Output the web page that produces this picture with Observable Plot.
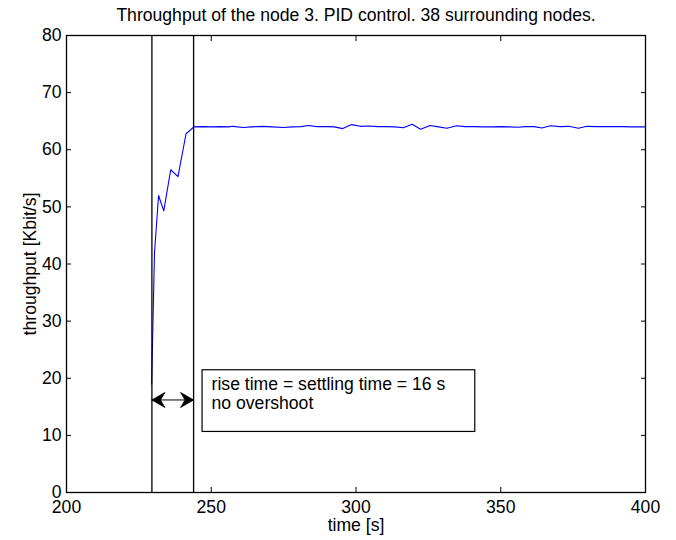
<!DOCTYPE html>
<html>
<head>
<meta charset="utf-8">
<script src="https://cdn.jsdelivr.net/npm/d3@7"></script>
<script src="https://cdn.jsdelivr.net/npm/@observablehq/plot@0.6"></script>
<style>
  html, body { margin: 0; padding: 0; background: #fff; }
  #chart svg { display: block; }
</style>
</head>
<body>
<div id="chart"></div>
<script>
// ---- data ----
const titleText = "Throughput of the node 3. PID control. 38 surrounding nodes.";
const xLabel = "time [s]";
const yLabel = "throughput [Kbit/s]";
const xTicks = [200, 250, 300, 350, 400];
const yTicks = [0, 10, 20, 30, 40, 50, 60, 70, 80];

const time = [
  229.4, 230.4, 231.8, 233.6, 236.0, 238.5, 241.3, 244.0,
  247.0, 250.0, 253.0, 256.0, 257.5, 261.0, 264.0, 267.5, 271.0, 274.8,
  278.0, 281.0, 283.5, 286.5, 290.0, 292.5, 295.4, 298.5, 301.5, 304.5,
  307.5, 310.5, 313.5, 316.4, 319.4, 322.3, 325.6, 328.5, 331.4, 334.7,
  337.7, 341.0, 344.0, 347.0, 350.0, 353.0, 356.0, 358.5, 361.5, 364.2,
  367.2, 370.5, 373.5, 376.8, 379.8, 383.0, 386.0, 389.0, 392.0, 395.0,
  398.0, 400.0
];
const throughput = [
  19.0, 42.0, 52.0, 49.3, 56.5, 55.3, 62.8, 64.0,
  64.05, 64.0, 64.05, 64.0, 64.1, 63.9, 64.0, 64.1, 64.0, 63.9,
  64.0, 64.05, 64.25, 64.05, 64.05, 64.0, 63.7, 64.4, 64.1, 64.15,
  64.05, 64.05, 64.0, 63.85, 64.45, 63.6, 64.25, 64.0, 63.75, 64.2,
  64.05, 64.05, 64.0, 64.0, 64.05, 64.0, 63.95, 64.05, 64.05, 63.8,
  64.2, 64.05, 64.1, 63.75, 64.1, 64.05, 64.05, 64.05, 64.05, 64.0,
  64.0, 64.0
];

// rise / settling markers
const markerTimes = [229.5, 243.9];
const annotationLines = ["rise time = settling time = 16 s", "no overshoot"];

const series = time.map((t, i) => ({t, v: throughput[i]}));

const font = "'Liberation Sans', Arial, Helvetica, sans-serif";
const FS = 17.6;

const box = {x1: 247.0, x2: 341.2, y1: 10.6, y2: 21.4};
const arrowY = 16.2;

// filled arrow-head symbols (tip at the dot position)
function headSymbol(dir) {
  return {
    draw(context, size) {
      const s = Math.sqrt(size / Math.PI) / 7;
      const L = 13 * s, W = 7.5 * s, N = 8.5 * s;
      context.moveTo(0, 0);
      context.lineTo(dir * L, -W);
      context.lineTo(dir * N, 0);
      context.lineTo(dir * L, W);
      context.closePath();
    }
  };
}

const chart = Plot.plot({
  width: 676,
  height: 540,
  marginLeft: 66,
  marginRight: 31,
  marginTop: 35,
  marginBottom: 48,
  style: {fontFamily: font, fontSize: FS + "px", color: "#000", background: "#fff"},
  x: {domain: [200, 400]},
  y: {domain: [0, 80]},
  marks: [
    // data line
    Plot.line(series, {x: "t", y: "v", stroke: "#0000ff", strokeWidth: 1.1}),
    // vertical markers
    Plot.ruleX(markerTimes, {stroke: "#000", strokeWidth: 1.3}),
    // annotation box
    Plot.rect([box], {x1: "x1", x2: "x2", y1: "y1", y2: "y2", fill: "#fff", stroke: "#000", strokeWidth: 1.2}),
    Plot.text([annotationLines.join("\n")], {x: box.x1, y: box.y2, dx: 9, dy: 6, textAnchor: "start", lineAnchor: "top", lineHeight: 1.1, fontSize: FS, fill: "#000"}),
    // double arrow
    Plot.ruleY([arrowY], {x1: markerTimes[0], x2: markerTimes[1], stroke: "#000", strokeWidth: 1}),
    Plot.dot([markerTimes[0]], {x: d => d, y: arrowY, r: 7, fill: "#000", stroke: "#000", strokeWidth: 0.8, symbol: headSymbol(1)}),
    Plot.dot([markerTimes[1]], {x: d => d, y: arrowY, r: 7, fill: "#000", stroke: "#000", strokeWidth: 0.8, symbol: headSymbol(-1)}),
    Plot.frame({stroke: "#000", strokeWidth: 1.3}),
    // axes with inward ticks
    Plot.axisX(xTicks, {anchor: "bottom", tickSize: -5, tickPadding: 13, label: null, fontSize: FS, tickFormat: d => String(d)}),
    Plot.axisX(xTicks, {anchor: "top", tickSize: -5, label: null, tickFormat: () => ""}),
    Plot.axisY(yTicks, {anchor: "left", tickSize: -5, tickPadding: 10, label: null, fontSize: FS, tickFormat: d => String(d)}),
    Plot.axisY(yTicks, {anchor: "right", tickSize: -5, label: null, tickFormat: () => ""}),
    // texts
    Plot.text([titleText], {frameAnchor: "top", dy: -20, lineAnchor: "middle", fontSize: FS, fill: "#000"}),
    Plot.text([xLabel], {frameAnchor: "bottom", dy: 33, lineAnchor: "middle", fontSize: FS, fill: "#000"}),
    Plot.text([yLabel], {frameAnchor: "left", dx: -36, rotate: -90, textAnchor: "middle", lineAnchor: "middle", fontSize: FS, fill: "#000"})
  ]
});
document.getElementById("chart").appendChild(chart);
</script>
</body>
</html>
